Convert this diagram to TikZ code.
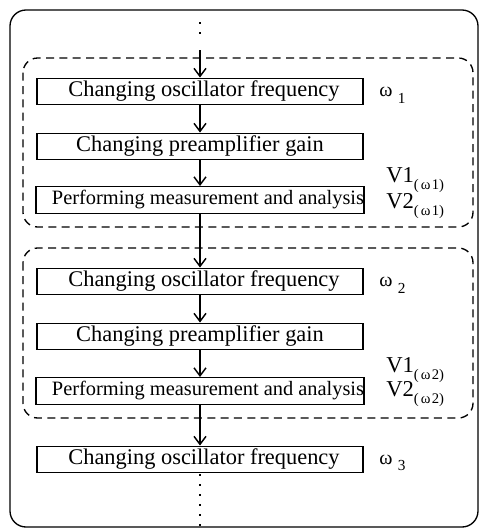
\documentclass[tikz,border=0pt]{standalone}
\usepackage{fontspec}
\setmainfont{Liberation Serif}
\usetikzlibrary{arrows.meta}
\begin{document}
\begin{tikzpicture}[x=0.75pt,y=-0.75pt,
  stepbox/.style={draw,line width=0.9pt,minimum width=244.5pt,minimum height=20pt,inner sep=0pt},
  bigtxt/.style={font=\fontsize{16.8}{18}\selectfont},
  smalltxt/.style={font=\fontsize{15.3}{16}\selectfont},
  flow/.style={line width=1.1pt,-{Straight Barb[length=6pt,width=9pt,line width=1.1pt]}},
  grp/.style={draw,line width=1pt,rounded corners=11pt,dash pattern=on 6pt off 4pt},
  lbl/.style={anchor=west,inner sep=0pt,font=\fontsize{15}{16}\selectfont},
  vlbl/.style={anchor=west,inner sep=0pt,font=\fontsize{17}{18}\selectfont},
  dots/.style={line width=1.4pt,dash pattern=on 1.8pt off 5.7pt}]
\useasboundingbox (0,0) rectangle (480,529);
\draw[line width=1pt,rounded corners=12pt] (10,10) rectangle (478,527);
\draw[grp] (23,58) rectangle (473,227);
\draw[grp] (23,248) rectangle (473,418);
\node[stepbox,bigtxt] (b1) at (200,91.5) {\hspace*{6pt}Changing oscillator frequency};
\node[stepbox,bigtxt] (b2) at (200,146.5) {Changing preamplifier gain};
\node[stepbox,smalltxt] (b3) at (200,200) {\hspace*{12pt}Performing measurement and analysis};
\node[stepbox,bigtxt] (b4) at (200,281.5) {\hspace*{6pt}Changing oscillator frequency};
\node[stepbox,bigtxt] (b5) at (200,336.5) {Changing preamplifier gain};
\node[stepbox,smalltxt] (b6) at (200,391) {\hspace*{12pt}Performing measurement and analysis};
\node[stepbox,bigtxt] (b7) at (200,459.5) {\hspace*{6pt}Changing oscillator frequency};
\coordinate (t0) at (200,22);
\coordinate (t1) at (200,37);
\coordinate (t2) at (200,50);
\coordinate (e0) at (200,474);
\coordinate (e1) at (200,529);
\draw[dots] (t0) -- (t1);
\draw[flow] (t2) -- (b1);
\draw[flow] (b1) -- (b2);
\draw[flow] (b2) -- (b3);
\draw[flow] (b3) -- (b4);
\draw[flow] (b4) -- (b5);
\draw[flow] (b5) -- (b6);
\draw[flow] (b6) -- (b7);
\draw[dots] (e0) -- (e1);
\node[lbl] (w1) at (379,95) {ω\kern4pt\raisebox{-5pt}{\fontsize{11.5}{12}\selectfont 1}};
\node[lbl] (w2) at (379,285) {ω\kern4pt\raisebox{-5pt}{\fontsize{11.5}{12}\selectfont 2}};
\node[lbl] (w3) at (379,463) {ω\kern4pt\raisebox{-5pt}{\fontsize{11.5}{12}\selectfont 3}};
\node[vlbl] (v11) at (386,180) {V1\raisebox{-5pt}{\fontsize{11}{12}\selectfont(\kern1.5ptω\kern1pt1)}};
\node[vlbl] (v21) at (386,206) {V2\raisebox{-5pt}{\fontsize{11}{12}\selectfont(\kern1.5ptω\kern1pt1)}};
\node[vlbl] (v12) at (386,370) {V1\raisebox{-5pt}{\fontsize{11}{12}\selectfont(\kern1.5ptω\kern1pt2)}};
\node[vlbl] (v22) at (386,394) {V2\raisebox{-5pt}{\fontsize{11}{12}\selectfont(\kern1.5ptω\kern1pt2)}};
\end{tikzpicture}
\end{document}
